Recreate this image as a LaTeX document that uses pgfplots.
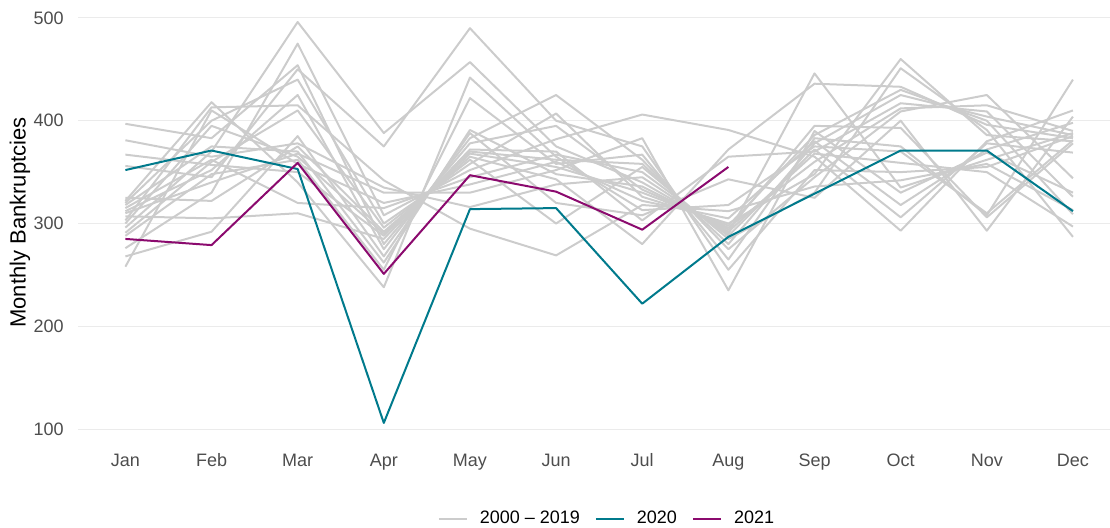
\documentclass[border=0pt]{standalone}
\usepackage{pgfplots}
\pgfplotsset{compat=1.18}
\usepackage{pgfplotstable}
\usepackage{fontspec}
\setmainfont{Liberation Sans}
\definecolor{grayline}{HTML}{CCCCCC}
\definecolor{teal20}{HTML}{007A8C}
\definecolor{purp21}{HTML}{8B0A6E}
\definecolor{gridc}{HTML}{EBEBEB}
\definecolor{tickc}{HTML}{4D4D4D}

\pgfplotstableread{
m y0 y1 y2 y3 y4 y5 y6 y7 y8 y9 y10 y11 y12 y13 y14 y15 y16 y17 y18 y19
1 397 381 367 356 325 322 320 318 315 312 310 307 303 300 296 291 288 276 268 258
2 383 365 357 345 322 418 400 375 362 352 340 305 413 395 370 360 348 330 292 410
3 454 378 350 450 375 340 440 370 320 425 368 310 415 365 496 410 362 475 385 358
4 280 335 288 375 292 238 300 262 315 275 330 285 342 290 388 296 255 308 268 320
5 378 316 370 490 365 442 358 391 345 383 330 372 295 368 457 362 422 352 388 338
6 395 338 362 400 343 365 407 348 367 425 352 370 269 355 375 300 358 382 320 360
7 333 345 358 375 280 313 326 336 350 362 383 303 318 330 340 355 367 406 308 322
8 296 290 280 255 372 318 300 294 288 275 235 365 312 298 292 285 265 391 343 305
9 360 446 378 352 436 375 348 395 372 345 390 370 336 386 368 330 383 365 325 380
10 412 335 425 350 433 370 460 393 306 409 330 417 342 430 359 451 375 293 400 318
11 415 362 404 355 396 310 386 306 378 425 369 409 358 400 350 391 308 380 293 372
12 390 388 386 385 383 381 380 378 369 344 330 326 313 309 297 287 440 410 404 398
}\grayt

\pgfplotstableread{
m v
1 352
2 371
3 353
4 106
5 314
6 315
7 222
8 287
9 329
10 371
11 371
12 312
}\ttwenty

\pgfplotstableread{
m v
1 285
2 279
3 359
4 251
5 347
6 331
7 294
8 355
}\ttwentyone

\begin{document}
\begin{tikzpicture}
\begin{axis}[
  scale only axis,
  width=516pt, height=220.5pt,
  xmin=0.45, xmax=12.43, ymin=86.5, ymax=515.5,
  axis line style={draw=none},
  major tick length=0pt,
  tick style={draw=none},
  xtick={1,2,3,4,5,6,7,8,9,10,11,12},
  xticklabels={Jan,Feb,Mar,Apr,May,Jun,Jul,Aug,Sep,Oct,Nov,Dec},
  ytick={100,200,300,400,500},
  ymajorgrids,
  grid style={gridc, line width=0.55pt},
  /pgf/number format/assume math mode=true,
  ticklabel style={font=\fontsize{9}{10}\selectfont, text=tickc},
  yticklabel style={anchor=east, inner sep=0pt, xshift=-7pt},
  xticklabel style={anchor=base, inner sep=0pt, yshift=-11.7pt},
  ylabel={Monthly Bankruptcies},
  ylabel style={font=\fontsize{11}{13}\selectfont, at={(axis description cs:-0.0562,0.5)}, anchor=center},
  legend style={at={(axis description cs:0.5116,-0.172)}, anchor=center, draw=none, fill=none,
    font=\fontsize{9}{10}\selectfont, nodes={inner xsep=0pt, inner ysep=1pt},
    /tikz/every odd column/.append style={column sep=6pt},
    /tikz/every even column/.append style={column sep=7.5pt}},
  legend columns=3,
  legend image code/.code={\draw[#1] (0pt,0pt) -- (14pt,0pt);},
  every axis plot/.append style={line width=1pt, line join=round},
]
\coordinate (psw) at (rel axis cs:0,0);
\addplot[grayline] table[x=m, y=y0] {\grayt};
\addlegendentry{2000 – 2019}
\addplot[grayline, forget plot] table[x=m, y=y1] {\grayt};
\addplot[grayline, forget plot] table[x=m, y=y2] {\grayt};
\addplot[grayline, forget plot] table[x=m, y=y3] {\grayt};
\addplot[grayline, forget plot] table[x=m, y=y4] {\grayt};
\addplot[grayline, forget plot] table[x=m, y=y5] {\grayt};
\addplot[grayline, forget plot] table[x=m, y=y6] {\grayt};
\addplot[grayline, forget plot] table[x=m, y=y7] {\grayt};
\addplot[grayline, forget plot] table[x=m, y=y8] {\grayt};
\addplot[grayline, forget plot] table[x=m, y=y9] {\grayt};
\addplot[grayline, forget plot] table[x=m, y=y10] {\grayt};
\addplot[grayline, forget plot] table[x=m, y=y11] {\grayt};
\addplot[grayline, forget plot] table[x=m, y=y12] {\grayt};
\addplot[grayline, forget plot] table[x=m, y=y13] {\grayt};
\addplot[grayline, forget plot] table[x=m, y=y14] {\grayt};
\addplot[grayline, forget plot] table[x=m, y=y15] {\grayt};
\addplot[grayline, forget plot] table[x=m, y=y16] {\grayt};
\addplot[grayline, forget plot] table[x=m, y=y17] {\grayt};
\addplot[grayline, forget plot] table[x=m, y=y18] {\grayt};
\addplot[grayline, forget plot] table[x=m, y=y19] {\grayt};
\addplot[teal20] table[x=m, y=v] {\ttwenty};
\addlegendentry{2020}
\addplot[purp21] table[x=m, y=v] {\ttwentyone};
\addlegendentry{2021}
\end{axis}
\pgfresetboundingbox
\path[use as bounding box] (psw) ++(-39pt,-42.5pt) rectangle ++(555pt,264pt);
\end{tikzpicture}
\end{document}
